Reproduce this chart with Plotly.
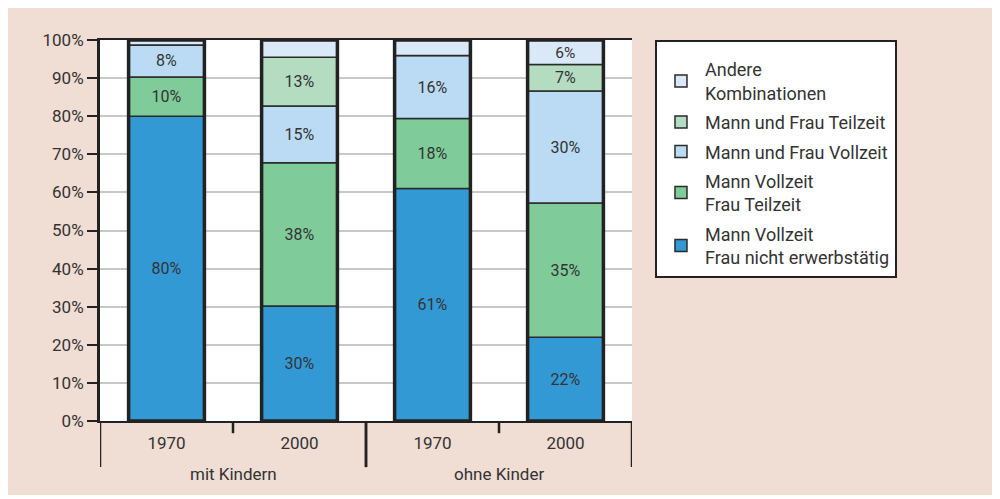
import plotly.graph_objects as go
import numpy as np

group_names = ["mit Kindern", "ohne Kinder"]
years = ["1970", "2000", "1970", "2000"]
bar_group = [0, 0, 1, 1]

series_names = [
    "Mann Vollzeit<br>Frau nicht erwerbstätig",
    "Mann Vollzeit<br>Frau Teilzeit",
    "Mann und Frau Vollzeit",
    "Mann und Frau Teilzeit",
    "Andere<br>Kombinationen",
]
mvfn = [80, 30.2, 61, 22]
mvft = [10.3, 37.6, 18.4, 35.2]
mfv = [8.4, 14.9, 16.5, 29.4]
mft = [0, 12.8, 0, 7]
andere = [1.3, 4.5, 4.1, 6.4]

labels_mvfn = ["80%", "30%", "61%", "22%"]
labels_mvft = ["10%", "38%", "18%", "35%"]
labels_mfv = ["8%", "15%", "16%", "30%"]
labels_mft = ["", "13%", "", "7%"]
labels_andere = ["", "", "", "6%"]

colors = ["#3399d5", "#80cb9a", "#badbf3", "#b4dcc1", "#d9e9f8"]

series = [mvfn, mvft, mfv, mft, andere]
labels = [labels_mvfn, labels_mvft, labels_mfv, labels_mft, labels_andere]

xpos = np.arange(len(years))
FONT = "Roboto"
TXT = "#333333"

fig = go.Figure()
base = np.zeros(len(years))
n = len(series)
for i, (name, vals, lab, col) in enumerate(zip(series_names, series, labels, colors)):
    v = np.array(vals, dtype=float)
    fig.add_trace(go.Bar(
        x=xpos, y=v, base=base.copy(), name=name, legendgroup=f"g{i}",
        legendrank=n - i,
        marker=dict(color=col, line=dict(color="#2a2a2a", width=1.5)),
        text=lab, textposition="inside", insidetextanchor="middle", textangle=0,
        textfont=dict(size=16, color=TXT, family=FONT),
        width=0.57,
    ))
    base = base + v

# outer outline of each bar
fig.add_trace(go.Bar(
    x=xpos, y=base, base=np.zeros(len(years)), showlegend=False, hoverinfo="skip",
    marker=dict(color="rgba(0,0,0,0)", line=dict(color="#222222", width=3.5)),
    width=0.57,
))

# group dividers and group labels below the axis
gidx = np.array(bar_group)
for g, gname in enumerate(group_names):
    members = xpos[gidx == g]
    lo, hi = members.min() - 0.5, members.max() + 0.5
    fig.add_annotation(x=(lo + hi) / 2, y=-0.139, xref="x", yref="paper",
                       text=gname, showarrow=False, yanchor="middle",
                       font=dict(size=17, color=TXT, family=FONT))
    for edge in (lo, hi):
        fig.add_shape(type="line", xref="x", yref="paper", x0=edge, x1=edge,
                      y0=0, y1=-0.121, line=dict(color="#222222", width=2.5))
    for a, b in zip(members[:-1], members[1:]):
        mid = (a + b) / 2
        fig.add_shape(type="line", xref="x", yref="paper", x0=mid, x1=mid,
                      y0=0, y1=-0.032, line=dict(color="#222222", width=2.5))

fig.update_layout(
    barmode="overlay",
    width=992, height=487,
    paper_bgcolor="#f0ddd4",
    plot_bgcolor="#ffffff",
    margin=dict(l=92, r=368, t=32, b=74),
    font=dict(family=FONT, size=17, color=TXT),
    legend=dict(
        x=1.0432, y=1.0, xanchor="left", yanchor="top",
        bgcolor="#ffffff", bordercolor="#222222", borderwidth=2,
        traceorder="grouped",
        font=dict(size=18, color=TXT, family=FONT),
        tracegroupgap=3,
        itemwidth=38,
        title=dict(text=" ", font=dict(size=7)),
    ),
    xaxis=dict(
        range=[-0.5, len(years) - 0.5],
        tickvals=xpos, ticktext=years,
        showline=True, linecolor="#222222", linewidth=2, mirror=True,
        ticks="", showgrid=False, zeroline=False,
        tickfont=dict(size=17, color=TXT, family=FONT),
        ticklabelstandoff=6,
    ),
    yaxis=dict(
        range=[0, 100], dtick=10, ticksuffix="%",
        showline=True, linecolor="#222222", linewidth=3,
        ticks="outside", ticklen=10, tickwidth=2, tickcolor="#222222",
        showgrid=True, gridcolor="#c8c8c8", gridwidth=2,
        tickfont=dict(size=17, color=TXT, family=FONT),
        zeroline=False,
    ),
    yaxis2=dict(
        range=[0, 100], overlaying="y", side="right",
        showline=True, linecolor="#777777", linewidth=2,
        showticklabels=False, showgrid=False, ticks="", zeroline=False,
    ),
)

fig.write_html("out.html")
